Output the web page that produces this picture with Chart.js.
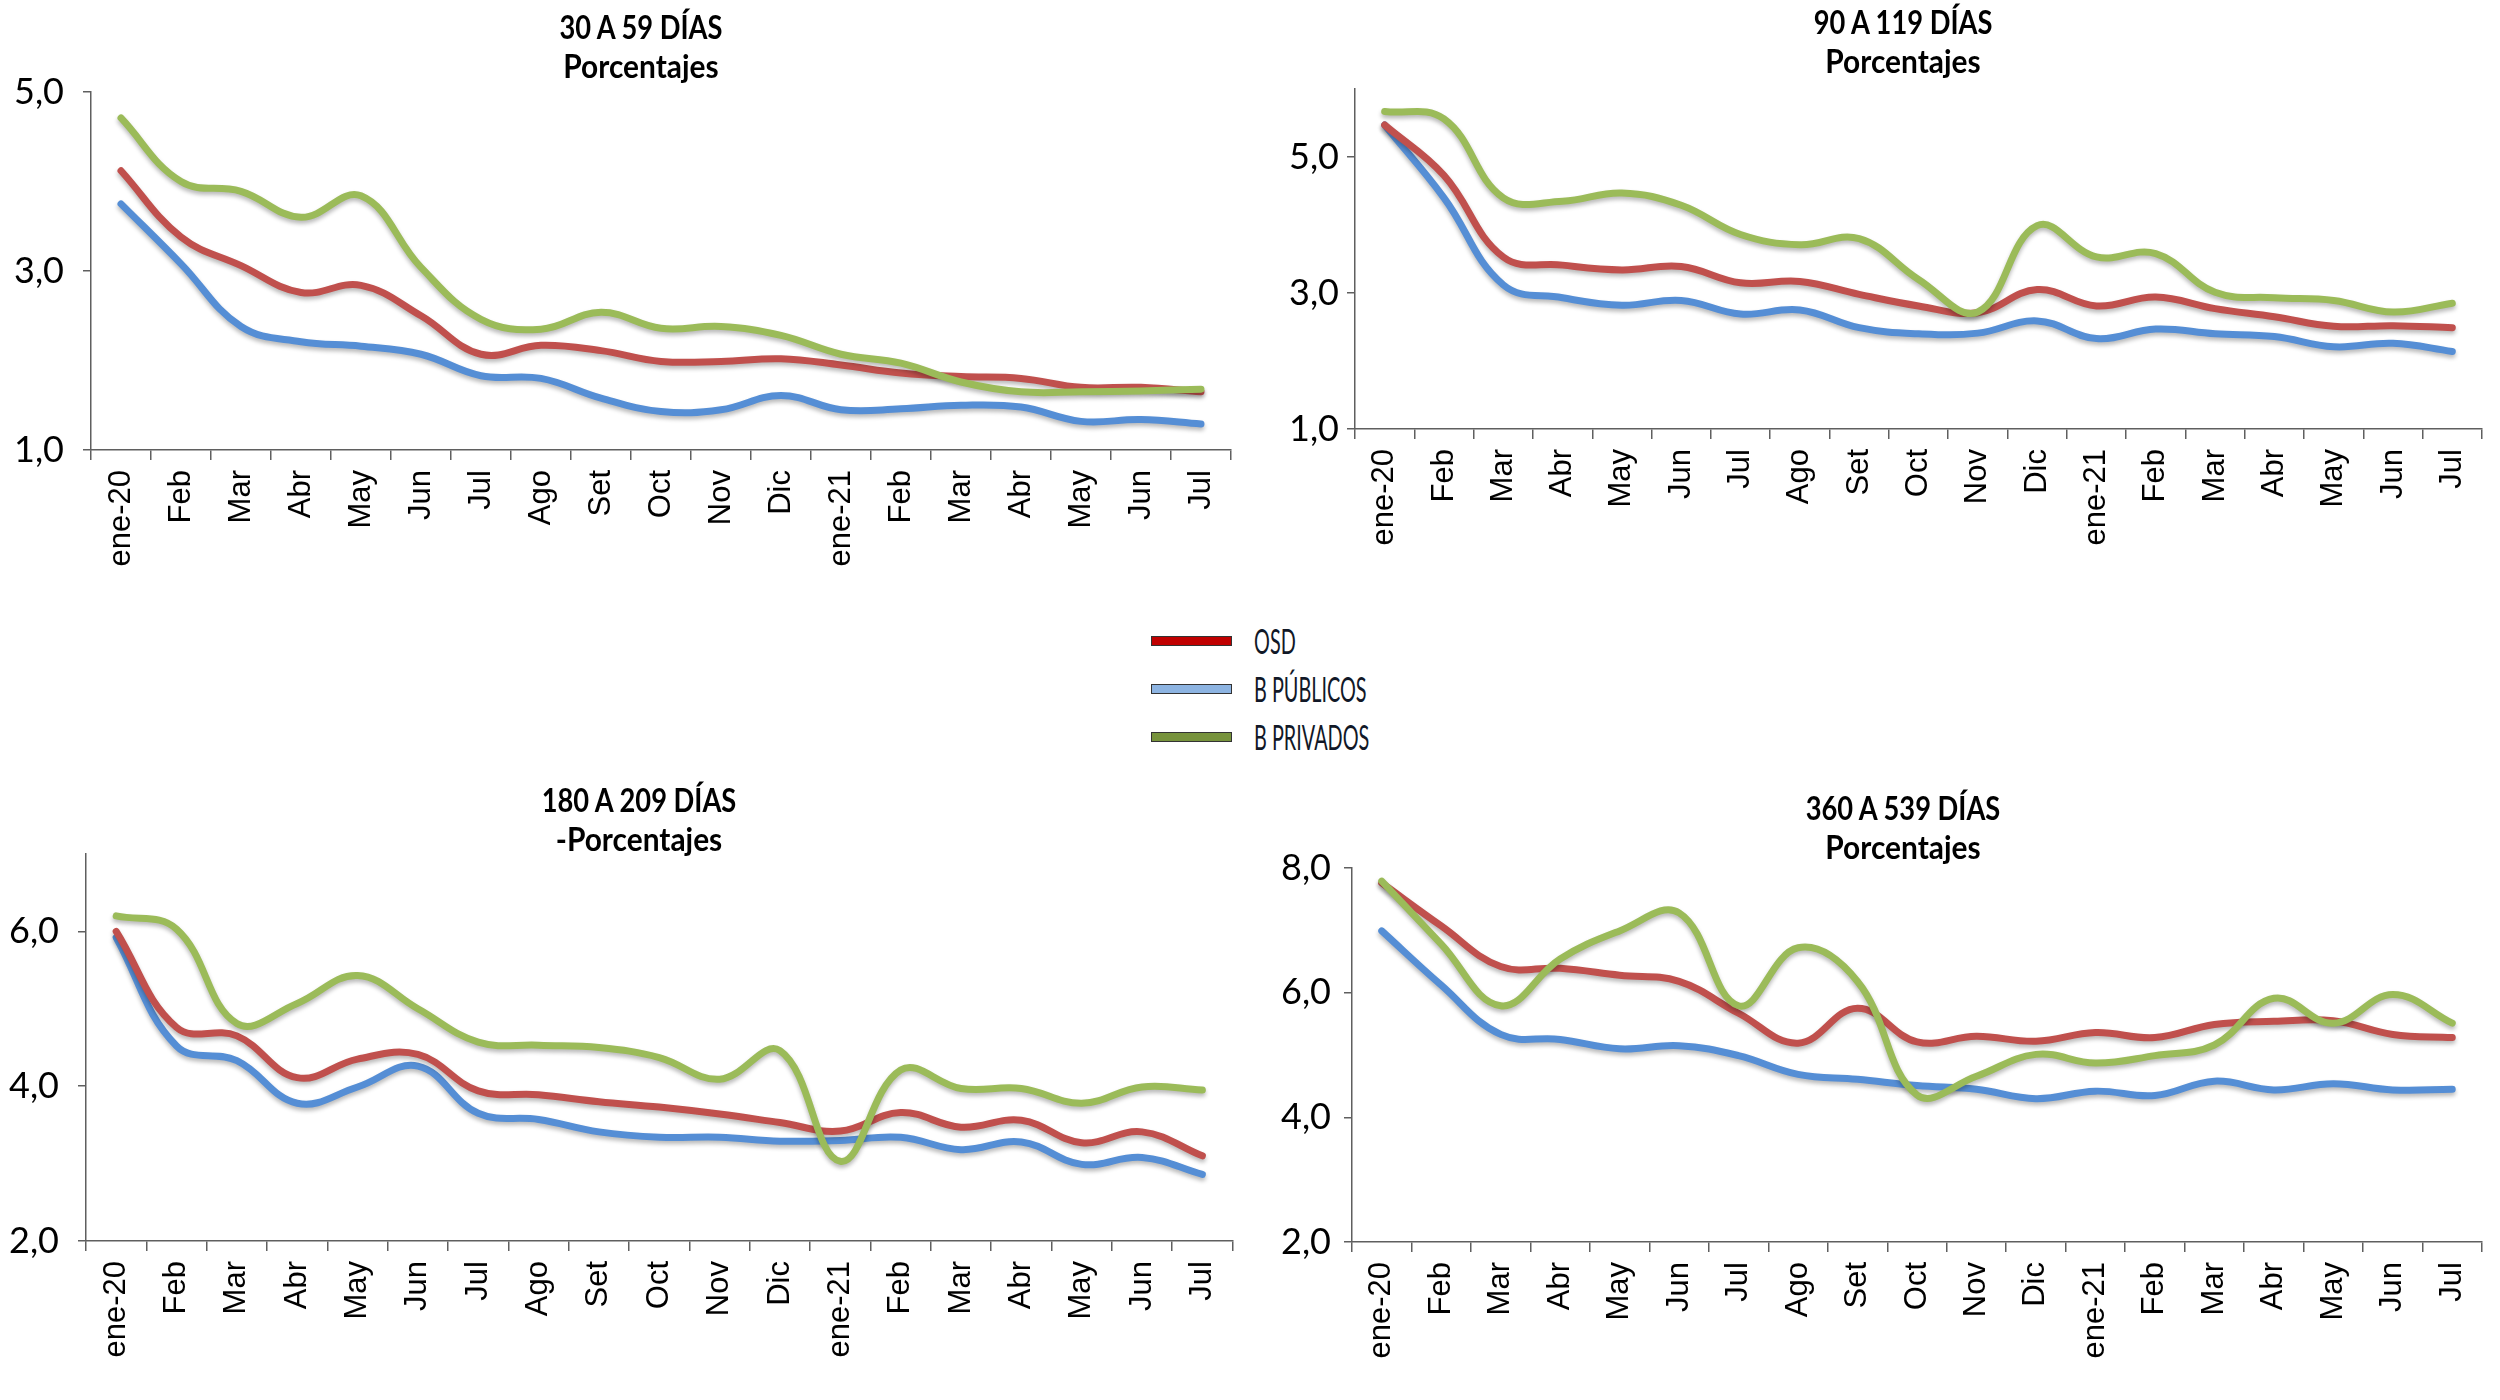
<!DOCTYPE html>
<html>
<head>
<meta charset="utf-8">
<script src="https://cdn.jsdelivr.net/npm/chart.js@4.4.1/dist/chart.umd.min.js"></script>
<style>
body { margin:0; background:#fff; width:2500px; height:1400px; position:relative; overflow:hidden; }
.box { position:absolute; }
.title { position:absolute; width:600px; text-align:center; font-family:Lato,"Open Sans",sans-serif; font-weight:bold; font-size:29px; line-height:39px; color:#000; white-space:nowrap; }
.title span { display:block; }
.title .l1 { transform:scale(0.94, 1.12); }
.title .l2 { transform:scale(1.03, 1.12); }
.legend { position:absolute; left:1151px; top:618px; font-family:Lato,"Open Sans",sans-serif; font-size:31px; color:#111827; }
.legend .row { position:relative; height:48px; }
.legend .swatch { position:absolute; left:0; top:18px; width:79px; height:8px; border:1.5px solid #333; }
.legend .txt { position:absolute; left:103px; top:3px; line-height:40px; white-space:nowrap; transform:scale(0.64, 1.1); transform-origin:left center; }
</style>
</head>
<body>

<div class="box" style="left:0;top:0"><canvas id="c1" width="1250" height="580"></canvas></div>
<div class="box" style="left:1250px;top:0"><canvas id="c2" width="1250" height="580"></canvas></div>
<div class="box" style="left:0;top:770px"><canvas id="c3" width="1250" height="630"></canvas></div>
<div class="box" style="left:1250px;top:770px"><canvas id="c4" width="1250" height="630"></canvas></div>

<div class="title" style="left:341px;top:7px"><span class="l1">30 A 59 DÍAS</span><span class="l2">Porcentajes</span></div>
<div class="title" style="left:1603px;top:2px"><span class="l1">90 A 119 DÍAS</span><span class="l2">Porcentajes</span></div>
<div class="title" style="left:339px;top:780px"><span class="l1">180 A 209 DÍAS</span><span class="l2">-Porcentajes</span></div>
<div class="title" style="left:1603px;top:788px"><span class="l1">360 A 539 DÍAS</span><span class="l2">Porcentajes</span></div>

<div class="legend">
    <div class="row"><div class="swatch" style="background:#C00000"></div><div class="txt">OSD</div></div>
    <div class="row"><div class="swatch" style="background:#8DB4E2"></div><div class="txt">B PÚBLICOS</div></div>
    <div class="row"><div class="swatch" style="background:#77933C"></div><div class="txt">B PRIVADOS</div></div>
</div>

<script>
// --- DATA ---
const months = ['ene-20','Feb','Mar','Abr','May','Jun','Jul','Ago','Set','Oct','Nov','Dic','ene-21','Feb','Mar','Abr','May','Jun','Jul'];

// 30 a 59 dias
const osd30  = [4.12,3.38,3.06,2.76,2.84,2.50,2.07,2.17,2.11,1.99,1.99,2.02,1.95,1.86,1.82,1.80,1.70,1.70,1.65];
const pub30  = [3.75,3.08,2.38,2.21,2.16,2.07,1.83,1.80,1.58,1.43,1.45,1.61,1.45,1.46,1.50,1.48,1.32,1.34,1.29];
const priv30 = [4.71,4.00,3.89,3.60,3.84,3.04,2.46,2.35,2.54,2.36,2.38,2.28,2.07,1.97,1.76,1.65,1.65,1.66,1.68];
const ticks30 = [1, 3, 5];

// 90 a 119 dias
const osd90  = [5.47,4.73,3.53,3.41,3.34,3.39,3.15,3.17,2.98,2.81,2.71,3.05,2.81,2.94,2.77,2.65,2.51,2.52,2.49];
const pub90  = [5.47,4.40,3.12,2.93,2.82,2.89,2.69,2.75,2.49,2.40,2.41,2.59,2.33,2.47,2.40,2.36,2.21,2.26,2.14];
const priv90 = [5.67,5.56,4.40,4.35,4.47,4.29,3.86,3.71,3.80,3.20,2.72,3.99,3.53,3.58,3.01,2.93,2.89,2.72,2.85];
const ticks90 = [1, 3, 5];

// 180 a 209 dias
const osd180  = [6.00,4.76,4.65,4.11,4.35,4.41,3.94,3.89,3.80,3.73,3.64,3.53,3.42,3.66,3.47,3.56,3.27,3.41,3.10];
const pub180  = [5.92,4.52,4.33,3.78,3.99,4.26,3.65,3.57,3.41,3.34,3.34,3.29,3.30,3.34,3.18,3.28,2.99,3.08,2.86];
const priv180 = [6.20,6.03,4.81,5.07,5.43,5.00,4.57,4.53,4.50,4.37,4.09,4.46,3.03,4.21,3.97,3.97,3.78,3.99,3.95];
const ticks180 = [2, 4, 6];

// 360 a 539 dias
const osd360  = [7.76,7.07,6.42,6.39,6.28,6.18,5.67,5.19,5.75,5.21,5.30,5.22,5.36,5.28,5.49,5.54,5.55,5.33,5.28];
const pub360  = [6.99,6.12,5.33,5.25,5.10,5.15,4.99,4.69,4.61,4.51,4.45,4.30,4.42,4.35,4.58,4.44,4.54,4.44,4.45];
const priv360 = [7.79,6.78,5.79,6.54,6.99,7.28,5.79,6.72,6.18,4.36,4.66,5.01,4.87,4.99,5.16,5.91,5.51,5.97,5.51];
const ticks360 = [2, 4, 6, 8];

const RED = '#C0504D', BLUE = '#558ED5', GREEN = '#9BBB59';
const AXIS = '#5f5f5f';

// soft shadow under each line, like the original
const lineShadow = {
    id: 'lineShadow',
    beforeDatasetDraw(chart) {
        const c = chart.ctx;
        c.save();
        c.shadowColor = 'rgba(0,0,0,0.28)';
        c.shadowBlur = 4;
        c.shadowOffsetY = 3;
    },
    afterDatasetDraw(chart) { chart.ctx.restore(); }
};

function line(label, data, color) {
    return { label, data, borderColor: color, backgroundColor: color, borderWidth: 7,
             pointRadius: 0, tension: 0.4, borderCapStyle: 'round', fill: false };
}

function makeChart(id, osd, pub, priv, yTicks, g) {
    new Chart(document.getElementById(id), {
        type: 'line',
        data: {
            labels: months,
            datasets: [line('B PRIVADOS', priv, GREEN), line('OSD', osd, RED), line('B PÚBLICOS', pub, BLUE)]
        },
        plugins: [lineShadow],
        options: {
            responsive: false,
            animation: false,
            layout: { padding: { left: 0, right: g.padR, top: g.top, bottom: 0 } },
            plugins: { legend: { display: false }, tooltip: { enabled: false } },
            scales: {
                x: {
                    offset: true,
                    grid: { display: true, offset: true, drawOnChartArea: false, drawTicks: true, tickLength: 10, color: AXIS, lineWidth: 1.5 },
                    border: { display: true, color: AXIS, width: 1.5 },
                    ticks: { autoSkip: false, minRotation: 90, maxRotation: 90, padding: 10, color: '#000',
                             font: { family: '"Liberation Sans", Arial, sans-serif', size: 31 } },
                    afterFit: s => { s.height = g.xh; }
                },
                y: {
                    min: g.min, max: g.max,
                    grid: { display: true, drawOnChartArea: false, drawTicks: true, tickLength: 8, color: AXIS, lineWidth: 1.5 },
                    border: { display: true, color: AXIS, width: 1.5 },
                    ticks: { padding: g.lblPad, color: '#000',
                             font: { family: 'Lato, "Open Sans", sans-serif', size: 36 },
                             callback: v => v.toFixed(1).replace('.', ',') },
                    afterBuildTicks: s => { s.ticks = yTicks.map(v => ({ value: v })); },
                    afterFit: s => { s.width = g.yw; }
                }
            }
        }
    });
}

makeChart('c1', osd30, pub30, priv30, ticks30,
    { min: 1, max: 5, yw: 91,  padR: 19, top: 92, xh: 130, lblPad: 19 });
makeChart('c2', osd90, pub90, priv90, ticks90,
    { min: 1, max: 6, yw: 105, padR: 18, top: 89, xh: 151, lblPad: 8 });
makeChart('c3', osd180, pub180, priv180, ticks180,
    { min: 2, max: 7, yw: 86,  padR: 16, top: 84, xh: 159, lblPad: 19 });
makeChart('c4', osd360, pub360, priv360, ticks360,
    { min: 2, max: 8, yw: 102, padR: 18, top: 98, xh: 158, lblPad: 13 });
</script>
</body>
</html>
